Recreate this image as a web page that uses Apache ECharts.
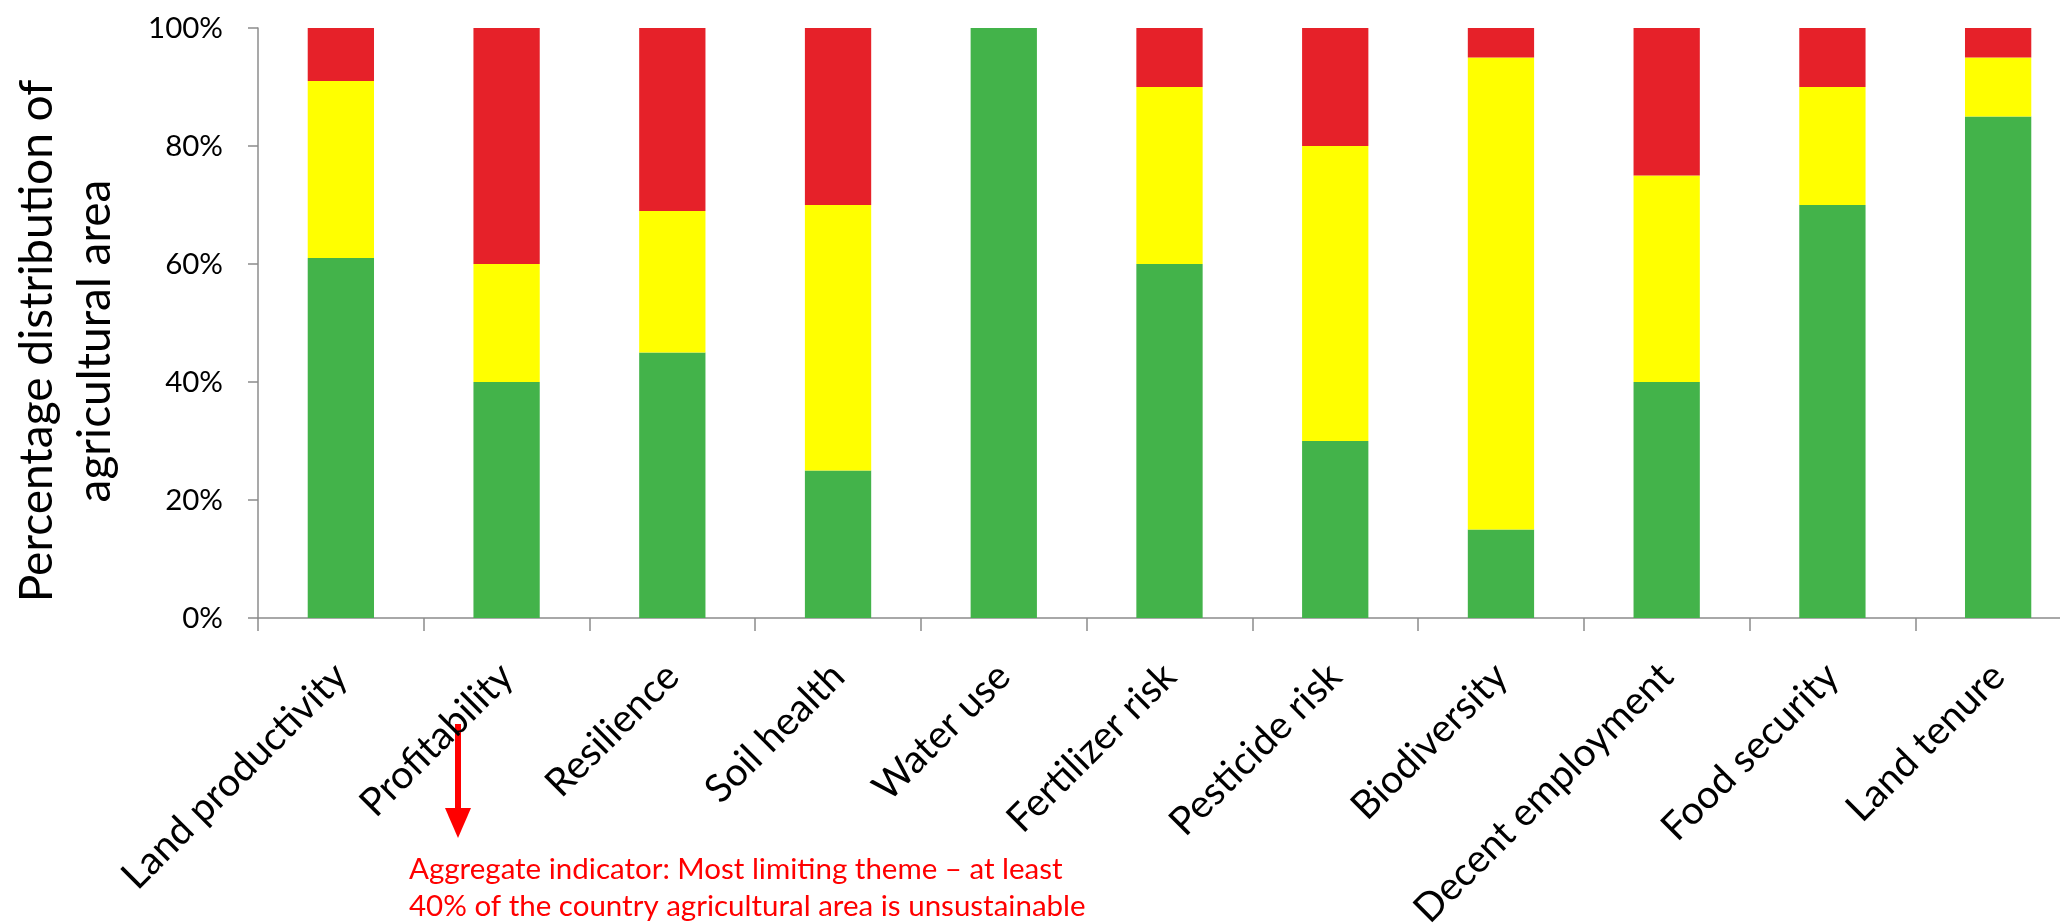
<!DOCTYPE html>
<html>
<head>
<meta charset="utf-8">
<script src="https://cdn.jsdelivr.net/npm/echarts@6/dist/echarts.min.js"></script>
<style>
html,body{margin:0;padding:0;background:#fff;}
#chart{width:2060px;height:923px;}
</style>
</head>
<body>
<div id="chart"></div>
<script>
var categories = ['Land productivity','Profitability','Resilience','Soil health','Water use','Fertilizer risk','Pesticide risk','Biodiversity','Decent employment','Food security','Land tenure'];
var sustainable = [61, 40, 45, 25, 100, 60, 30, 15, 40, 70, 85];
var acceptable  = [30, 20, 24, 45, 0, 30, 50, 80, 35, 20, 10];
var unsustainable = [9, 40, 31, 30, 0, 10, 20, 5, 25, 10, 5];
var yTicks = [0, 20, 40, 60, 80, 100];
var yAxisTitle = 'Percentage distribution of\nagricultural area';
var noteText = 'Aggregate indicator: Most limiting theme \u2013 at least\n40% of the country agricultural area is unsustainable';

var FONT = 'Lato';
var chart = echarts.init(document.getElementById('chart'), null, {renderer:'canvas'});
function mk(name, data, color){
  return {name:name, type:'bar', stack:'total', data:data, barCategoryGap:'60%',
    itemStyle:{color:color}, emphasis:{disabled:true}};
}
chart.setOption({
  animation:false,
  backgroundColor:'#ffffff',
  grid:{left:258, top:28, bottom:305, right:-21, containLabel:false, outerBoundsMode:'none'},
  xAxis:{type:'category', data:categories,
    axisLine:{lineStyle:{color:'#8C8C8C', width:1.5}},
    axisTick:{show:true, length:13, lineStyle:{color:'#8C8C8C', width:1.5}},
    axisLabel:{rotate:45, fontFamily:FONT, fontSize:39, color:'#000', margin:52, interval:0}
  },
  yAxis:{type:'value', min:yTicks[0], max:yTicks[yTicks.length-1], interval:20,
    name:yAxisTitle, nameLocation:'middle', nameGap:134,
    nameTextStyle:{fontFamily:FONT, fontSize:46, color:'#000', lineHeight:58, padding:[0,36,0,0]},
    axisLine:{show:true, lineStyle:{color:'#8C8C8C', width:1.5}},
    axisTick:{show:true, length:10, lineStyle:{color:'#8C8C8C', width:1.5}},
    splitLine:{show:false},
    axisLabel:{formatter:'{value}%', fontFamily:FONT, fontSize:29.5, color:'#000', margin:35}
  },
  series:[
    mk('Sustainable', sustainable, '#43B34A'),
    mk('Acceptable', acceptable, '#FFFF00'),
    mk('Unsustainable', unsustainable, '#E62129')
  ],
  graphic:[
    {type:'line', shape:{x1:458, y1:724, x2:458, y2:812}, style:{stroke:'#FF0000', lineWidth:6}},
    {type:'polygon', shape:{points:[[445,808],[471,808],[458,838]]}, style:{fill:'#FF0000'}},
    {type:'text', left:409, top:851, style:{text:noteText, fontFamily:FONT, fontSize:29.5, lineHeight:37, fill:'#FF0000'}}
  ]
});
</script>
</body>
</html>
